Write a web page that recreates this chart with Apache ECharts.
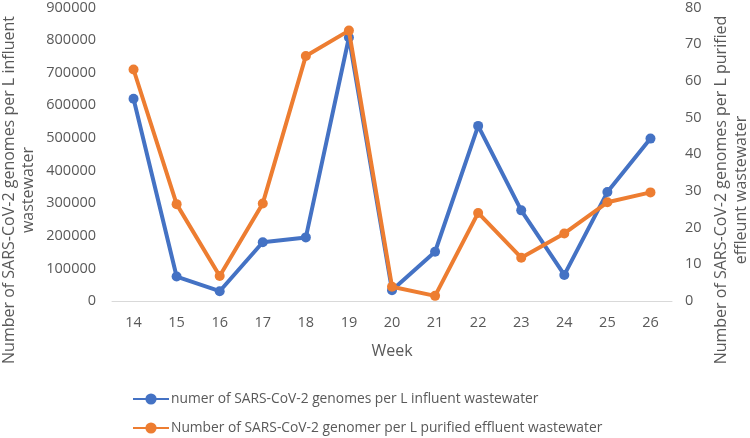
<!DOCTYPE html>
<html>
<head>
<meta charset="utf-8">
<script src="https://cdn.jsdelivr.net/npm/echarts@6/dist/echarts.min.js"></script>
<style>html,body{margin:0;padding:0;background:#fff;}#c{width:750px;height:438px;}</style>
</head>
<body>
<div id="c"></div>
<script>
var weeks = ['14','15','16','17','18','19','20','21','22','23','24','25','26'];
var influent = [620000, 75000, 30000, 180000, 195000, 808000, 33000, 151000, 537000, 278000, 80000, 334000, 498000];
var effluent = [63.1, 26.4, 6.8, 26.6, 66.8, 73.7, 3.9, 1.4, 24.0, 11.8, 18.4, 26.9, 29.6];
var seriesNames = ['numer of SARS-CoV-2 genomes per L influent wastewater', 'Number of SARS-CoV-2 genomer per L purified effluent wastewater'];
var leftTitle = ['Number of SARS-CoV-2 genomes per L influent', 'wastewater'];
var rightTitle = ['Number of SARS-CoV-2 genomes per L purified', 'effleunt wastewater'];
var xTitle = 'Week';

var FONT = 'Open Sans';
var GREY = '#595959';
var chart = echarts.init(document.getElementById('c'), null, {renderer: 'canvas'});
function vtext(txt, x, y) {
  return {type: 'text', x: x, y: y, rotation: Math.PI / 2,
    style: {text: txt, fill: GREY, font: '16px "' + FONT + '"', textAlign: 'center', textVerticalAlign: 'middle'}};
}
function legendAt(name, top) {
  return {
    orient: 'vertical', left: 127, top: top,
    itemWidth: 36, itemHeight: 14,
    textStyle: {color: GREY, fontSize: 13.8, fontFamily: FONT, padding: [0, 0, 0, -3]},
    data: [name]
  };
}
chart.setOption({
  animation: false,
  textStyle: {fontFamily: FONT},
  grid: {left: 112, right: 78, top: 7, bottom: 137},
  xAxis: {
    type: 'category', data: weeks, boundaryGap: true,
    axisLine: {lineStyle: {color: '#d9d9d9', width: 1}},
    axisTick: {show: false},
    axisLabel: {color: GREY, fontSize: 14.5, margin: 14, fontFamily: FONT},
    name: xTitle, nameLocation: 'middle', nameGap: 42,
    nameTextStyle: {color: GREY, fontSize: 16, fontFamily: FONT}
  },
  yAxis: [
    {type: 'value', min: 0, max: 900000, interval: 100000,
     axisLine: {show: false}, axisTick: {show: false}, splitLine: {show: false},
     axisLabel: {color: GREY, fontSize: 14.5, margin: 16, fontFamily: FONT,
                 formatter: function (v) { return String(v); }}},
    {type: 'value', min: 0, max: 80, interval: 10, position: 'right',
     axisLine: {show: false}, axisTick: {show: false}, splitLine: {show: false},
     axisLabel: {color: GREY, fontSize: 14.5, margin: 13, fontFamily: FONT}}
  ],
  legend: [legendAt(seriesNames[0], 387), legendAt(seriesNames[1], 416)],
  series: [
    {name: seriesNames[0], type: 'line', yAxisIndex: 0, data: influent,
     symbol: 'circle', symbolSize: 10, lineStyle: {width: 4, color: '#4472C4'},
     itemStyle: {color: '#4472C4'}, z: 2},
    {name: seriesNames[1], type: 'line', yAxisIndex: 1, data: effluent,
     symbol: 'circle', symbolSize: 10, lineStyle: {width: 4, color: '#ED7D31'},
     itemStyle: {color: '#ED7D31'}, z: 3}
  ],
  graphic: [
    vtext(leftTitle[0], 9, 190), vtext(leftTitle[1], 28, 190),
    vtext(rightTitle[0], 721, 190), vtext(rightTitle[1], 741, 190)
  ]
});
</script>
</body>
</html>
